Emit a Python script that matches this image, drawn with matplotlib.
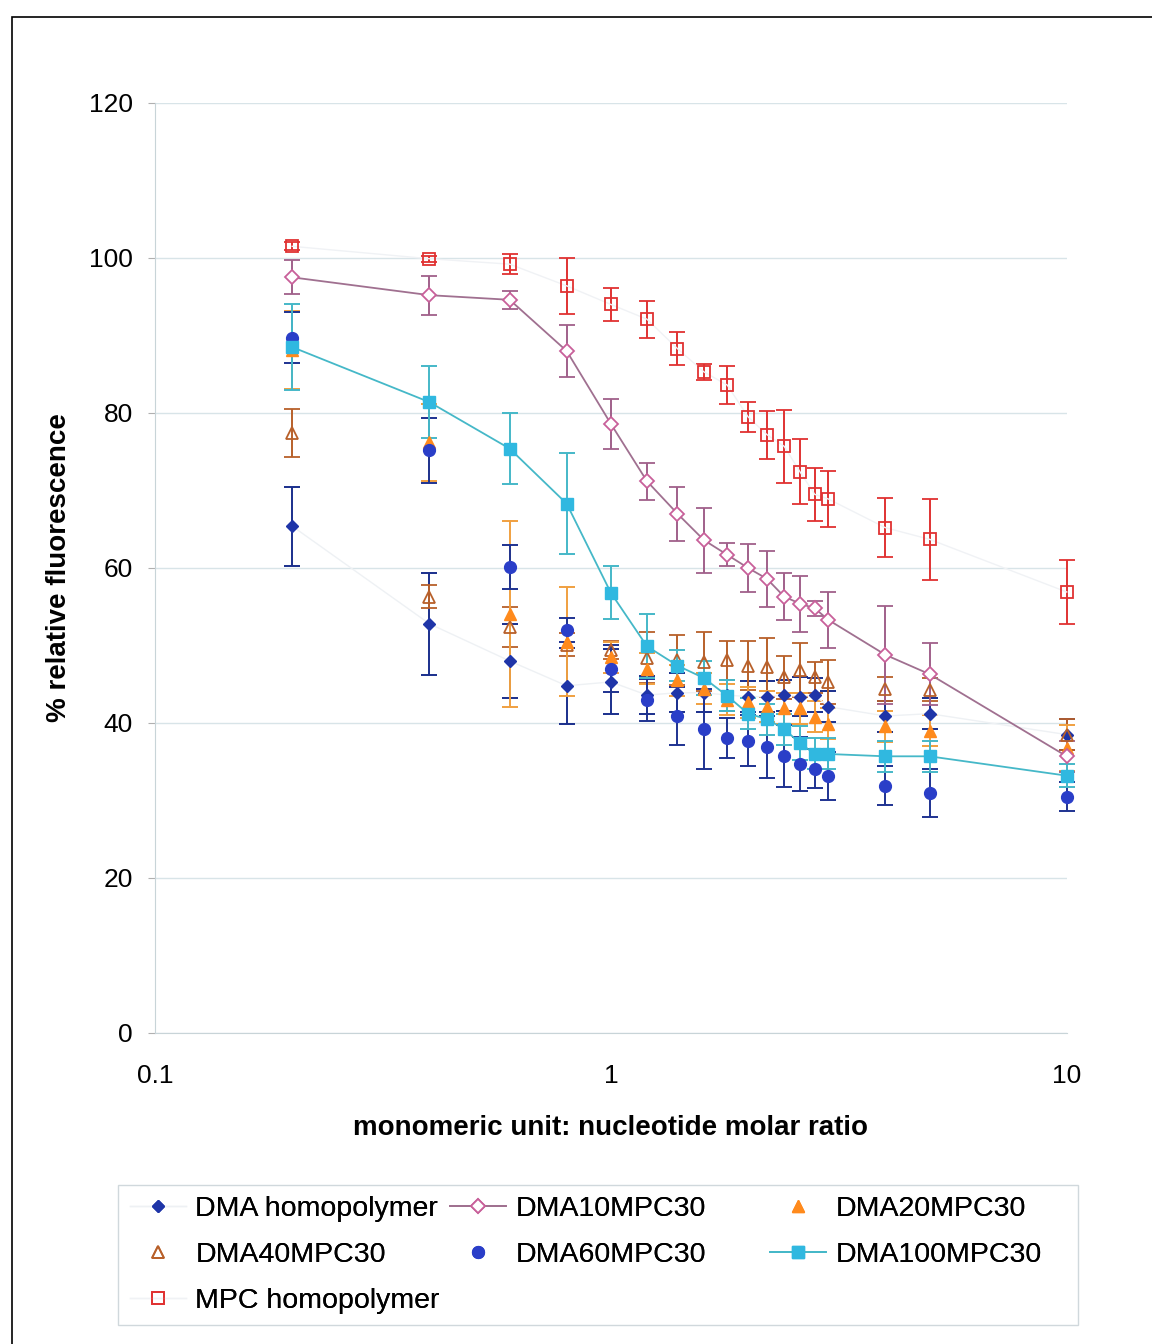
import matplotlib.pyplot as plt
import matplotlib.patches as patches
import numpy as np

plt.rcParams['font.family'] = ['Liberation Sans', 'DejaVu Sans']

ratio = [0.2, 0.4, 0.6, 0.8, 1.0, 1.2, 1.4, 1.6, 1.8, 2.0, 2.2, 2.4, 2.6, 2.8, 3.0, 4, 5, 10]

dma_homo = [65.4, 52.8, 48.0, 44.8, 45.3, 43.6, 43.9, 43.9, 43.6, 43.4, 43.4, 43.6, 43.4, 43.6, 42.1, 40.9, 41.2, 38.5]
dma_homo_err = [5.1, 6.6, 4.8, 4.9, 4.2, 2.5, 2.5, 2.5, 2.0, 2.0, 2.0, 2.0, 2.5, 2.2, 2.0, 2.0, 2.0, 2.0]

dma10 = [97.5, 95.2, 94.6, 88.0, 78.6, 71.2, 67.0, 63.6, 61.7, 60.0, 58.6, 56.3, 55.4, 54.8, 53.3, 48.8, 46.3, 35.7]
dma10_err = [2.2, 2.5, 1.2, 3.3, 3.2, 2.4, 3.5, 4.2, 1.5, 3.1, 3.6, 3.0, 3.6, 1.0, 3.6, 6.3, 4.0, 2.0]

dma20 = [88.1, 76.2, 54.0, 50.5, 48.5, 47.0, 45.5, 44.4, 43.0, 42.7, 42.1, 41.9, 41.9, 40.8, 39.9, 39.6, 39.0, 36.8]
dma20_err = [5.0, 5.0, 12.0, 7.0, 2.0, 2.0, 2.0, 2.0, 2.0, 2.0, 2.0, 2.0, 2.0, 2.0, 2.0, 2.0, 2.0, 3.0]

dma40 = [77.4, 56.3, 52.4, 50.1, 49.4, 48.4, 48.1, 47.9, 48.1, 47.4, 47.2, 45.9, 46.8, 45.9, 45.3, 44.4, 44.3, 38.5]
dma40_err = [3.1, 1.5, 2.6, 1.5, 1.2, 3.3, 3.2, 3.8, 2.5, 3.2, 3.8, 2.8, 3.5, 2.0, 2.8, 1.5, 1.5, 2.0]

dma60 = [89.7, 75.2, 60.1, 52.0, 47.0, 43.0, 40.9, 39.2, 38.1, 37.7, 36.9, 35.7, 34.7, 34.1, 33.2, 31.9, 31.0, 30.5]
dma60_err = [3.3, 4.2, 2.8, 1.6, 3.0, 2.7, 3.7, 5.2, 2.6, 3.3, 4.0, 4.0, 3.5, 2.5, 3.1, 2.5, 3.1, 1.9]

dma100 = [88.5, 81.4, 75.4, 68.3, 56.8, 49.9, 47.4, 45.8, 43.5, 41.2, 40.5, 39.2, 37.4, 36.0, 36.0, 35.7, 35.7, 33.2]
dma100_err = [5.6, 4.6, 4.6, 6.5, 3.4, 4.1, 2.0, 2.2, 2.0, 2.0, 2.0, 2.0, 2.2, 2.0, 2.0, 2.0, 2.0, 1.5]

mpc_homo = [101.5, 99.9, 99.2, 96.4, 94.0, 92.1, 88.3, 85.3, 83.6, 79.5, 77.2, 75.7, 72.4, 69.5, 68.9, 65.2, 63.7, 56.9]
mpc_homo_err = [0.5, 0.4, 1.3, 3.6, 2.1, 2.4, 2.1, 1.0, 2.5, 1.9, 3.1, 4.7, 4.2, 3.4, 3.6, 3.8, 5.2, 4.1]

W, H = 1152, 1344
fig = plt.figure(figsize=(W / 100, H / 100), dpi=100)
ax = fig.add_axes([0.1345, 0.2314, 0.7915, 0.692])

# outer frame
fig.patches.append(patches.Rectangle((0.0104, -0.01), 1.0, 0.9974, transform=fig.transFigure,
                                     fill=False, edgecolor='black', linewidth=1.2))

h = {}
eb = dict(capsize=6, elinewidth=1.4, capthick=1.4, clip_on=False)

h['homo'] = ax.errorbar(ratio, dma_homo, yerr=dma_homo_err, fmt='D-', color='#eef1f4', mfc='#1f35a8', mec='#1f35a8',
                        ecolor='#1a2f8c', markersize=6.5, linewidth=1.0, label='DMA homopolymer', **eb)
h['40'] = ax.errorbar(ratio, dma40, yerr=dma40_err, fmt='^', color='#b8602a', mfc='none', mec='#b8602a',
                      markersize=9, mew=1.3, linestyle='none', label='DMA40MPC30', **eb)
h['20'] = ax.errorbar(ratio, dma20, yerr=dma20_err, fmt='^', color='#ff8a1c', ecolor='#f0a040',
                      markersize=8.5, linestyle='none', label='DMA20MPC30', **eb)
h['60'] = ax.errorbar(ratio, dma60, yerr=dma60_err, fmt='o', color='#2a3ec8', ecolor='#1e3290',
                      markersize=8.5, linestyle='none', label='DMA60MPC30', **eb)
h['mpc'] = ax.errorbar(ratio, mpc_homo, yerr=mpc_homo_err, fmt='s-', color='#f0f2f5', mfc='none',
                       mec='#e03232', ecolor='#e03232', markersize=8.5, mew=1.3, linewidth=1.0,
                       label='MPC homopolymer', **eb)
h['10'] = ax.errorbar(ratio, dma10, yerr=dma10_err, fmt='D-', color='#a07090', mfc='white', mec='#c8609a',
                      ecolor='#a0608a', markersize=7.5, mew=1.3, linewidth=1.3, label='DMA10MPC30', **eb)
h['100'] = ax.errorbar(ratio, dma100, yerr=dma100_err, fmt='s-', color='#45b8c8', mfc='#30b8e0', mec='#30b8e0',
                       ecolor='#45b8c8', markersize=9, linewidth=1.3, label='DMA100MPC30', **eb)

ax.set_xscale('log')
ax.set_xlim(0.1, 10)
ax.set_ylim(0, 120)
ax.set_yticks([0, 20, 40, 60, 80, 100, 120])
ax.set_xticks([0.1, 1, 10])
ax.set_xticklabels(['0.1', '1', '10'])
ax.minorticks_off()
ax.grid(axis='y', color='#d8e4e8', linewidth=1.0)
ax.set_axisbelow(True)
for s in ['top', 'right']:
    ax.spines[s].set_visible(False)
ax.spines['left'].set_color('#c8d4d8')
ax.spines['bottom'].set_color('#c8d4d8')
ax.tick_params(axis='y', labelsize=19, color='#b0b0b0', length=5, pad=11)
ax.tick_params(axis='x', labelsize=19, length=0, pad=22)
ax.set_xlabel('monomeric unit: nucleotide molar ratio', fontsize=20, fontweight='bold', labelpad=20)
ax.set_ylabel('% relative fluorescence', fontsize=20, fontweight='bold', labelpad=12)

# legend: three columns placed like the original, inside one frame
fig.patches.append(patches.Rectangle((118 / W, 1 - 1325 / H), 960 / W, 140 / H, transform=fig.transFigure,
                                     fill=False, edgecolor='#d0d8dc', linewidth=1.0))
columns = [(130, [('homo', 'DMA homopolymer'), ('40', 'DMA40MPC30'), ('mpc', 'MPC homopolymer')]),
           (450, [('10', 'DMA10MPC30'), ('60', 'DMA60MPC30')]),
           (770, [('20', 'DMA20MPC30'), ('100', 'DMA100MPC30')])]
for x0, items in columns:
    leg = fig.legend([h[k][0] for k, _ in items], [t for _, t in items], loc='upper left',
                     bbox_to_anchor=(x0 / W, 1 - 1196 / H), fontsize=20.5, frameon=False,
                     handlelength=1.95, handletextpad=0.35, labelspacing=0.7, borderpad=0,
                     borderaxespad=0, markerscale=1.0)
    fig.add_artist(leg)

plt.savefig('out.png', dpi=100)
